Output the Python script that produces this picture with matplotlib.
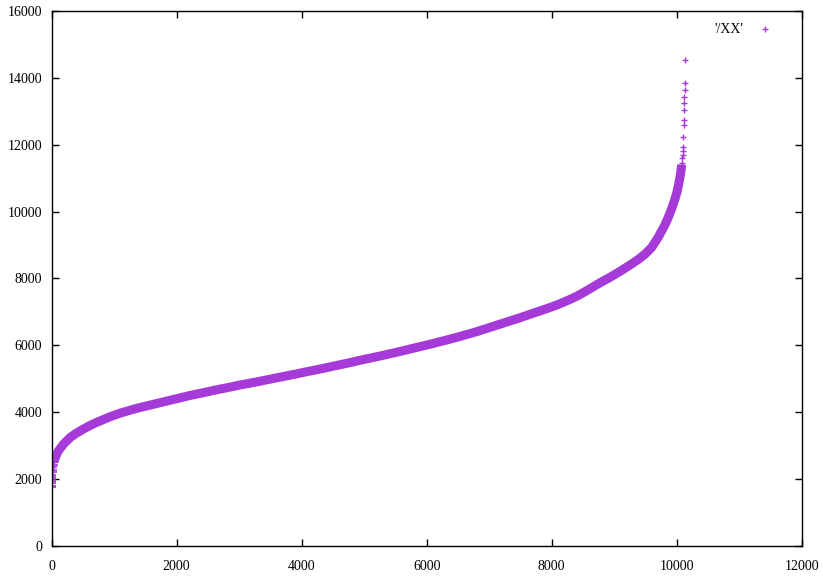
import numpy as np
import matplotlib.pyplot as plt

# sorted values at sample indices
start_idx = [0, 2, 4, 6, 8, 10, 13, 16, 20, 25, 30, 40]
start_val = [1750, 1800, 1870, 1940, 2000, 2060, 2130, 2200, 2270, 2350, 2420, 2520]

body_idx = [40, 50, 75, 100, 150, 200, 300, 400, 500, 600, 700, 800, 900, 1000,
            1100, 1200, 1300, 1400, 1500, 1600, 1700, 1800, 1900, 2000,
            2100, 2200, 2300, 2400, 2500, 2600, 2700, 2800, 2900, 3000,
            3100, 3200, 3300, 3400, 3500, 3600, 3700, 3800, 3900, 4000,
            4100, 4200, 4300, 4400, 4500, 4600, 4700, 4800, 4900, 5000,
            5100, 5200, 5300, 5400, 5500, 5600, 5700, 5800, 5900, 6000,
            6100, 6200, 6300, 6400, 6500, 6600, 6700, 6800, 6900, 7000,
            7100, 7200, 7300, 7400, 7500, 7600, 7700, 7800, 7900, 8000,
            8100, 8200, 8300, 8400, 8500, 8600, 8700, 8800, 8900, 9000,
            9100, 9200, 9300, 9400, 9500, 9600, 9700, 9800, 9850, 9900,
            9950, 10000, 10030, 10060, 10080]
body_val = [2520, 2600, 2720, 2820, 2950, 3070, 3250, 3380, 3490, 3590, 3680, 3760, 3840, 3910,
            3975, 4030, 4085, 4135, 4180, 4225, 4270, 4315, 4360, 4405,
            4450, 4495, 4535, 4575, 4615, 4655, 4695, 4730, 4770, 4810,
            4845, 4880, 4915, 4955, 4990, 5030, 5065, 5105, 5140, 5180,
            5220, 5255, 5295, 5335, 5375, 5415, 5455, 5495, 5540, 5580,
            5620, 5660, 5700, 5745, 5785, 5830, 5875, 5920, 5965, 6010,
            6055, 6105, 6150, 6200, 6250, 6305, 6355, 6410, 6470, 6530,
            6590, 6650, 6710, 6770, 6830, 6895, 6960, 7020, 7085, 7150,
            7220, 7300, 7380, 7470, 7570, 7680, 7790, 7900, 8000, 8110,
            8220, 8340, 8460, 8590, 8740, 8930, 9220, 9560, 9760, 9990,
            10250, 10550, 10800, 11100, 11400]

tail_idx = [10085, 10090, 10095, 10100, 10104, 10108, 10112, 10116, 10119, 10122, 10125, 10128, 10130, 10133]
tail_val = [11450, 11600, 11690, 11800, 11930, 12230, 12600, 12740, 13040, 13250, 13440, 13640, 13840, 14530]

purple = '#a53ad8'

plt.rcParams['font.family'] = ['Liberation Serif', 'DejaVu Serif']
plt.rcParams['font.size'] = 10

fig = plt.figure(figsize=(8.23, 5.82), dpi=100)
ax = fig.add_axes([0.0628, 0.0619, 0.9113, 0.9192])

# dense band of '+' points
ax.plot(body_idx, body_val, color=purple, lw=6.5, solid_capstyle='butt',
        marker='+', ms=5, mew=1)
ax.plot(start_idx, start_val, ls='none', color=purple, marker='+', ms=6, mew=1.2)
ax.plot(tail_idx, tail_val, ls='none', color=purple,
        marker='+', ms=5, mew=1, label="'/XX'")

ax.set_xlim(0, 12000)
ax.set_ylim(0, 16000)
ax.set_xticks(np.arange(0, 12001, 2000))
ax.set_yticks(np.arange(0, 16001, 2000))
ax.tick_params(direction='in', length=5, width=1, top=True, right=True, pad=7)
ax.tick_params(axis='x', pad=10)
for s in ax.spines.values():
    s.set_linewidth(1)

ax.legend(loc='upper right', bbox_to_anchor=(0.982, 1.0), frameon=False,
          markerfirst=False, handlelength=1.5, fontsize=10)

fig.savefig('out.png', dpi=100)
